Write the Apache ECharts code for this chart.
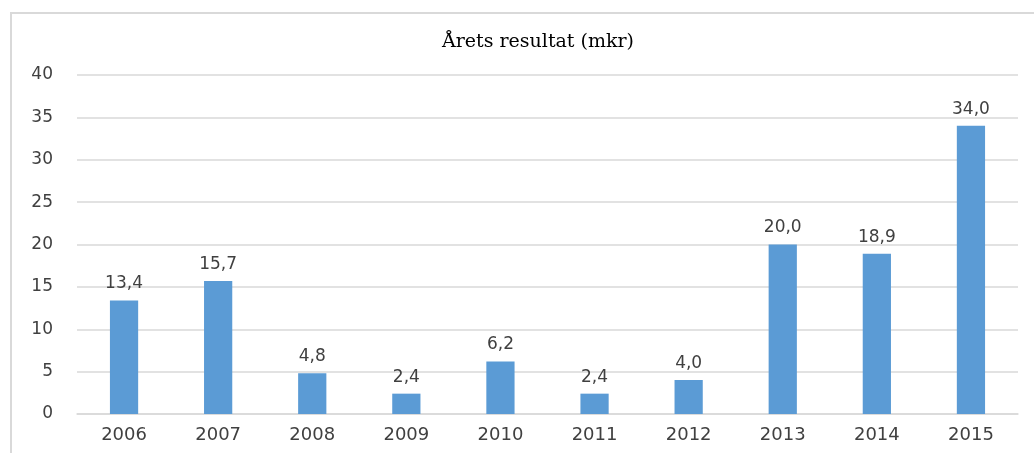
<!DOCTYPE html>
<html>
<head>
<meta charset="utf-8">
<script src="https://cdn.jsdelivr.net/npm/echarts@6/dist/echarts.min.js"></script>
<style>
  html, body { margin: 0; padding: 0; background: #fff; }
  #chart { width: 1034px; height: 453px; }
</style>
</head>
<body>
<div id="chart"></div>
<script>
var years = ['2006', '2007', '2008', '2009', '2010', '2011', '2012', '2013', '2014', '2015'];
var resultat = [13.4, 15.7, 4.8, 2.4, 6.2, 2.4, 4.0, 20.0, 18.9, 34.0];
var yTicks = [0, 5, 10, 15, 20, 25, 30, 35, 40];

var chart = echarts.init(document.getElementById('chart'));
chart.setOption({
    animation: false,
    backgroundColor: '#fff',
    title: {
        text: 'Årets resultat (mkr)',
        left: 533,
        top: 28,
        textAlign: 'center',
        textStyle: {
            fontFamily: 'DejaVu Serif',
            fontWeight: 'normal',
            fontSize: 19,
            color: '#000'
        }
    },
    graphic: [{
        type: 'polyline',
        shape: { points: [[11, 453], [11, 13], [1034, 13]] },
        style: { stroke: '#d9d9d9', lineWidth: 2, fill: null }
    }],
    grid: { left: 77, right: 16, top: 75, bottom: 39 },
    xAxis: {
        type: 'category',
        data: years,
        axisLine: { lineStyle: { color: '#d9d9d9', width: 1.5 } },
        axisTick: { show: false },
        axisLabel: {
            fontFamily: 'DejaVu Sans',
            fontSize: 18,
            color: '#404040',
            margin: 12
        }
    },
    yAxis: {
        type: 'value',
        min: yTicks[0],
        max: yTicks[yTicks.length - 1],
        interval: 5,
        axisLine: { show: false },
        axisTick: { show: false },
        splitLine: { lineStyle: { color: '#d9d9d9', width: 1.5 } },
        axisLabel: {
            fontFamily: 'DejaVu Sans',
            fontSize: 17,
            color: '#404040',
            margin: 24
        }
    },
    series: [{
        type: 'bar',
        data: resultat,
        barWidth: '30%',
        itemStyle: { color: '#5b9bd5' },
        label: {
            show: true,
            position: 'top',
            distance: 8,
            fontFamily: 'DejaVu Sans',
            fontSize: 17,
            color: '#404040',
            formatter: function (p) {
                return p.value.toFixed(1).replace('.', ',');
            }
        }
    }]
});
</script>
</body>
</html>
